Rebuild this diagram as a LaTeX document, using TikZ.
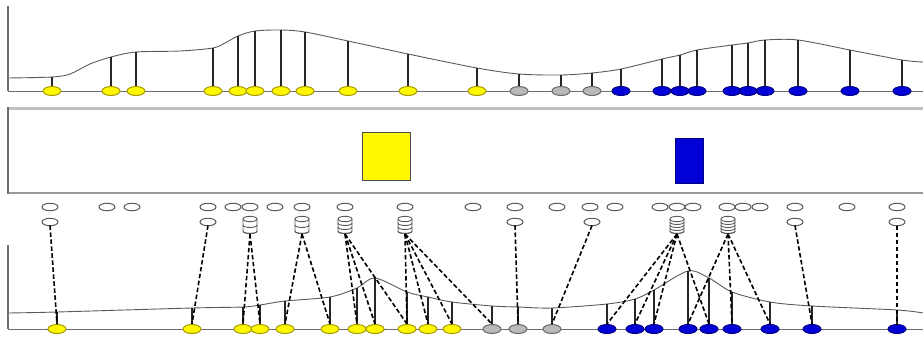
\documentclass[tikz,border=0pt]{standalone}
\usetikzlibrary{shapes.geometric}
\definecolor{fY}{RGB}{255,248,0}
\definecolor{dY}{RGB}{165,155,0}
\definecolor{fG}{RGB}{185,185,185}
\definecolor{dG}{RGB}{105,105,105}
\definecolor{fB}{RGB}{0,0,215}
\definecolor{dB}{RGB}{0,0,130}
\definecolor{curvec}{RGB}{90,90,90}
\definecolor{axisc}{RGB}{110,110,110}
\definecolor{openc}{RGB}{90,90,90}
\tikzset{
  dot/.style={ellipse, minimum width=18pt, minimum height=9pt, inner sep=0pt, line width=1pt},
  opendot/.style={ellipse, draw=openc, fill=white, minimum width=16pt, minimum height=7.5pt, inner sep=0pt, line width=1pt},
  stem/.style={draw=black!85, line width=1.6pt},
  curveline/.style={draw=curvec, line width=0.9pt},
  baseln/.style={draw=axisc, line width=1pt},
  axisln/.style={draw=axisc, line width=2pt},
  link/.style={draw=black, line width=1.6pt, dash pattern=on 4.5pt off 2.5pt},
  cyl/.style={draw=openc, line width=0.9pt}
}
\newcommand\dbcyl[2]{%
  \pgfmathsetmacro\xl{#1-7}\pgfmathsetmacro\xr{#1+7}%
  \filldraw[cyl, fill=white] (\xl,219) -- (\xl,231) .. controls (\xl,234.3) and (\xr,234.3) .. (\xr,231) -- (\xr,219);
  \draw[cyl, fill=white] (#1,219) ellipse [x radius=7, y radius=2.7];
  \foreach \k in {1,...,#2}{%
    \pgfmathsetmacro\yy{219+12*\k/#2}%
    \pgfmathsetmacro\yc{\yy+3.3}%
    \draw[cyl] (\xl,\yy) .. controls (\xl,\yc) and (\xr,\yc) .. (\xr,\yy);
  }%
}
\begin{document}
\begin{tikzpicture}[x=1pt,y=-1pt]
\useasboundingbox (0,0) rectangle (923,343);
% ---------------- top panel ----------------
\draw[curveline] plot[smooth, tension=0.5] coordinates {(8,78) (52,77) (70,74) (90,64) (111,57) (136,52) (180,51) (213,48) (225,43) (238,36) (255,31) (281,30) (305,32) (348,41) (408,54) (477,68) (519,74) (561,75) (592,73) (621,69) (662,59) (680,55) (697,50) (732,45) (748,43) (765,40) (798,40) (850,50) (902,60) (923,62)};
\draw[axisln] (8,6) -- (8,91);
\draw[baseln] (8,91) -- (923,91);
\foreach \x/\c/\h [count=\i] in {52/Y/77,111/Y/57,136/Y/52,213/Y/48,238/Y/36,255/Y/31,281/Y/30,305/Y/32,348/Y/41,408/Y/54,477/Y/68,519/G/74,561/G/75,592/G/73,621/B/69,662/B/59,680/B/55,697/B/50,732/B/45,748/B/43,765/B/40,798/B/40,850/B/50,902/B/60}{
  \coordinate (tb\i) at (\x,91);
  \coordinate (th\i) at (\x,\h);
  \draw[stem] (tb\i) -- (th\i);
  \node[dot, fill=f\c, draw=d\c] (t\i) at (tb\i) {};
}
% ---------------- middle panel ----------------
\draw[draw=black!25, line width=3pt] (8,108) -- (925,108);
\draw[draw=black!40, line width=2pt] (8,193) -- (925,193);
\draw[draw=axisc, line width=1.5pt] (8,107) -- (8,194);
\node[draw=black!70, fill=fY, line width=0.8pt, minimum width=48pt, minimum height=48pt, inner sep=0pt] (ybar) at (386,156) {};
\node[draw=dB, fill=fB, line width=0.8pt, minimum width=28pt, minimum height=45pt, inner sep=0pt] (bbar) at (689,160.5) {};
% ---------------- bottom panel ----------------
\draw[curveline] plot[smooth, tension=0.5] coordinates {(8,313) (57,312) (192,308) (243,307) (260,305) (285,301) (330,297) (357,288) (375,278) (407,292) (428,297) (452,302) (492,306) (518,307) (552,308) (607,304) (635,299) (654,290) (688,271) (709,278) (732,292) (770,302) (812,306) (897,310) (923,313)};
\draw[axisln] (8,245) -- (8,329);
\draw[baseln] (8,329) -- (923,329);
\foreach \x/\c/\h [count=\i] in {57/Y/312,192/Y/308,243/Y/307,260/Y/305,285/Y/301,330/Y/297,357/Y/288,375/Y/278,407/Y/292,428/Y/297,452/Y/302,492/G/306,518/G/307,552/G/308,607/B/304,635/B/299,654/B/290,688/B/271,709/B/278,732/B/292,770/B/302,812/B/306,897/B/310}{
  \coordinate (bb\i) at (\x,329);
  \coordinate (bh\i) at (\x,\h);
  \draw[stem] (bb\i) -- (bh\i);
  \node[dot, fill=f\c, draw=d\c] (b\i) at (bb\i) {};
}
% row 1 of open ellipses
\foreach \x [count=\i] in {50,107,132,208,233,250,275,302,345,405,473,515,557,590,615,660,677,693,727,743,760,795,847,897}{
  \node[opendot] (r\i) at (\x,207) {};
}
% row 2: plain ellipses
\foreach \n/\x in {A/50,B/208,G/515,H/592,K/795,L/897}{
  \node[opendot] (p\n) at (\x,222) {};
  \coordinate (s\n) at (\x,225.5);
}
% row 2: stacks
\foreach \n/\x/\m in {C/250/2,D/302/2,E/345/3,F/405/3,I/677/4,J/728/4}{
  \dbcyl{\x}{\m}
  \coordinate (s\n) at (\x,234);
}
% dashed links
\foreach \s/\b in {A/1,B/2,C/3,C/4,D/5,D/6,E/7,E/8,E/9,F/9,F/10,F/11,F/12,G/13,H/14,I/15,I/16,I/17,I/19,J/18,J/20,J/21,K/22,L/23}{
  \draw[link] (s\s) -- (b\b.north);
}
\end{tikzpicture}
\end{document}
